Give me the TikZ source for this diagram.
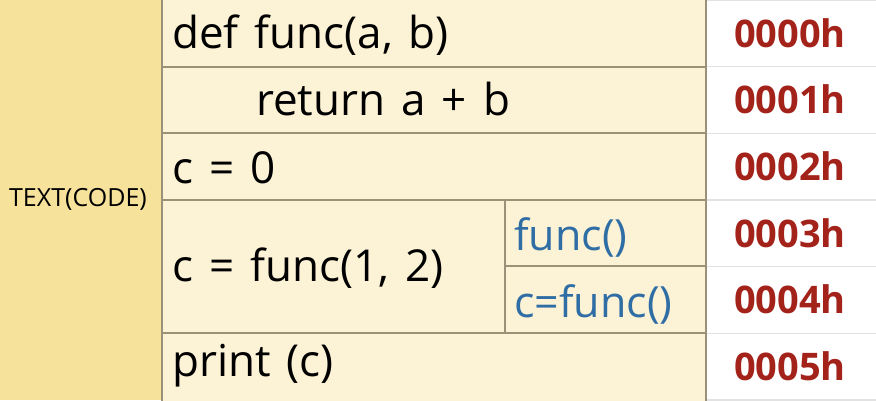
\documentclass[tikz,border=0pt]{standalone}
\usepackage{fontspec}
\setmainfont{Open Sans}[WordSpace=1.4]
\definecolor{gold}{HTML}{F7E29C}
\definecolor{cream}{HTML}{FCF2D5}
\definecolor{edge}{HTML}{9A9178}
\definecolor{lightedge}{HTML}{E2E2E2}
\definecolor{addr}{HTML}{A3231A}
\definecolor{bluetxt}{HTML}{2F6DA5}
\begin{document}
\begin{tikzpicture}[x=1pt,y=-1pt,
  cell/.style={draw=edge,line width=1.6pt,fill=cream},
  addrcell/.style={draw=lightedge,line width=1.2pt,fill=white},
  codetxt/.style={anchor=base west,inner sep=0pt,font=\fontsize{44}{50}\selectfont,text=black},
  subtxt/.style={anchor=base west,inner sep=0pt,font=\fontsize{43}{50}\selectfont,text=bluetxt},
  addrtxt/.style={anchor=base,inner sep=0pt,font=\bfseries\fontsize{38}{44}\selectfont,text=addr}]
\useasboundingbox (0,0) rectangle (876,400);
% left column
\fill[gold] (0,0) rectangle (162,400);
\node[inner sep=0pt,font=\fontsize{25}{30}\selectfont] (lbl) at (78,199) {TEXT(CODE)};
% address column
\foreach \i in {0,...,5}{
  \draw[addrcell] (706,{\i*66.67}) rectangle (878,{(\i+1)*66.67});
}
% code cells
\draw[cell] (162,-2) rectangle (706,67);
\draw[cell] (162,67) rectangle (706,133);
\draw[cell] (162,133) rectangle (706,200);
\draw[cell] (162,200) rectangle (505,333);
\draw[cell] (505,200) rectangle (706,266);
\draw[cell] (505,266) rectangle (706,333);
\draw[cell] (162,333) rectangle (706,402);
% texts
\node[codetxt] (r0) at (172,48) {def func(a, b)};
\node[codetxt] (r1) at (256,115) {return a + b};
\node[codetxt] (r2) at (172,183) {c = 0};
\node[codetxt] (r3) at (172,281) {c = func(1, 2)};
\node[subtxt] (s1) at (514,250) {func()};
\node[subtxt] (s2) at (514,317) {c=func()};
\node[codetxt] (r5) at (172,376) {print (c)};
\foreach \i/\a in {0/0000h,1/0001h,2/0002h,3/0003h,4/0004h,5/0005h}{
  \node[addrtxt] (a\i) at (790,{\i*66.67+47}) {\a};
}
\end{tikzpicture}
\end{document}
